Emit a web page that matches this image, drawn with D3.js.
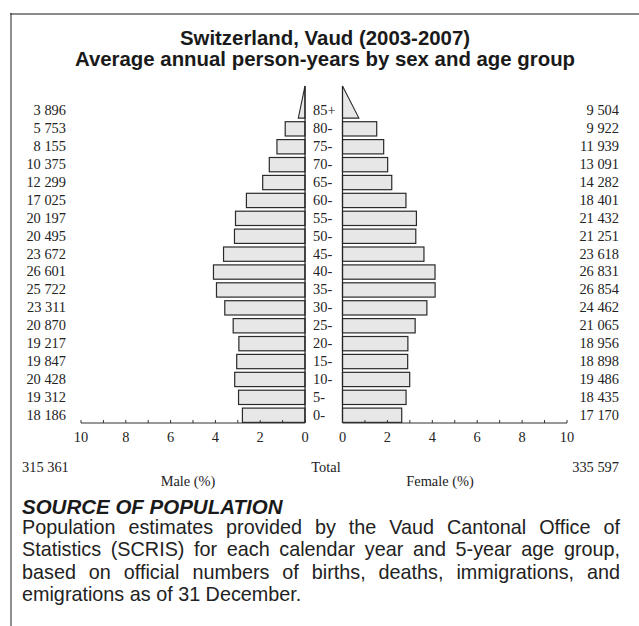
<!DOCTYPE html>
<html>
<head>
<meta charset="utf-8">
<script src="https://cdn.jsdelivr.net/npm/d3@7"></script>
<style>
  html, body { margin: 0; padding: 0; background: #fff; }
  #wrap { position: relative; width: 639px; height: 626px; overflow: hidden; }
  svg { position: absolute; left: 0; top: 0; }
  #note {
    position: absolute; left: 22px; top: 516px; width: 598px;
    font-family: "Liberation Sans", Arial, sans-serif; font-size: 19.8px;
    line-height: 22.3px; color: #222; text-align: justify;
  }
</style>
</head>
<body>
<div id="wrap">
  <svg id="chart" width="639" height="626"></svg>
  <div id="note">Population estimates provided by the Vaud Cantonal Office of Statistics (SCRIS) for each calendar year and 5-year age group, based on official numbers of births, deaths, immigrations, and emigrations as of 31 December.</div>
</div>
<script>
// Age groups, bottom to top
const ageGroups = ["0-", "5-", "10-", "15-", "20-", "25-", "30-", "35-", "40-",
                   "45-", "50-", "55-", "60-", "65-", "70-", "75-", "80-", "85+"];
// Average annual person-years, Vaud 2003-2007
const malePY = [18186, 19312, 20428, 19847, 19217, 20870, 23311, 25722, 26601,
                23672, 20495, 20197, 17025, 12299, 10375, 8155, 5753, 3896];
const femalePY = [17170, 18435, 19486, 18898, 18956, 21065, 24462, 26854, 26831,
                  23618, 21251, 21432, 18401, 14282, 13091, 11939, 9922, 9504];
const axisTicks = [0, 2, 4, 6, 8, 10];

const fmt = d3.formatLocale({ decimal: ".", thousands: " ", grouping: [3], currency: ["", ""] }).format(",d");

const totalMale = d3.sum(malePY);
const totalFemale = d3.sum(femalePY);
const grand = totalMale + totalFemale;
const pct = v => v / grand * 100;

const svg = d3.select("#chart");
const serif = "'Liberation Serif', 'Times New Roman', serif";
const sans = "'Liberation Sans', Arial, sans-serif";
const serifSize = 14.4;

// frame
svg.append("line").attr("x1", 10).attr("x2", 639).attr("y1", 14).attr("y2", 14)
  .attr("stroke", "#8c8c8c").attr("stroke-width", 2);
svg.append("line").attr("x1", 11).attr("x2", 11).attr("y1", 13).attr("y2", 626)
  .attr("stroke", "#333").attr("stroke-width", 1.1);

// title
const title = svg.append("text").attr("text-anchor", "middle")
  .attr("font-family", sans).attr("font-weight", "bold").attr("font-size", 20.4).attr("fill", "#1a1a1a");
title.append("tspan").attr("x", 325).attr("y", 44.5).text("Switzerland, Vaud (2003-2007)");
title.append("tspan").attr("x", 325).attr("y", 65.5).text("Average annual person-years by sex and age group");

// scales
const xL = d3.scaleLinear().domain([0, 10]).range([305, 81]);
const xR = d3.scaleLinear().domain([0, 10]).range([342.5, 567]);
const y = d3.scaleBand().domain(ageGroups).range([423, 100.8]);
const step = y.step();
const axisY = 423;

const rows = ageGroups.map((a, i) => ({ age: a, m: malePY[i], f: femalePY[i], open: a.endsWith("+") }));
const closed = rows.filter(d => !d.open);
const open = rows.filter(d => d.open);

const barFill = "#e6e7e6", barStroke = "#2a2a2a";

// closed age groups as bars
function bars(scale, key, cls) {
  svg.selectAll("rect." + cls).data(closed).join("rect")
    .attr("class", cls)
    .attr("x", d => Math.min(scale(0), scale(pct(d[key]))))
    .attr("width", d => Math.abs(scale(pct(d[key])) - scale(0)))
    .attr("y", d => y(d.age) + 3)
    .attr("height", step - 3.6)
    .attr("fill", barFill).attr("stroke", barStroke).attr("stroke-width", 1.2);
}
bars(xL, "m", "male");
bars(xR, "f", "female");

// open-ended group as a triangle (half-length base, double height)
function tri(scale, key, cls) {
  svg.selectAll("path." + cls).data(open).join("path")
    .attr("class", cls)
    .attr("d", d => {
      const x0 = scale(0);
      const x1 = scale(pct(d[key]) / 2);
      const yb = y(d.age) + step - 0.6;
      const yt = yb - (2 * step - 3.6);
      return `M${x0},${yb}L${x1},${yb}L${x0},${yt}Z`;
    })
    .attr("fill", barFill).attr("stroke", barStroke).attr("stroke-width", 1.1);
}
tri(xL, "m", "maleTop");
tri(xR, "f", "femaleTop");

// vertical baselines
const topY = y(ageGroups[ageGroups.length - 1]) + step - 0.6 - (2 * step - 3.6);
[xL(0), xR(0)].forEach(x => {
  svg.append("line").attr("x1", x).attr("x2", x).attr("y1", topY).attr("y2", axisY)
    .attr("stroke", "#222").attr("stroke-width", 1.2);
});

// horizontal axes
function axis(scale) {
  const g = svg.append("g").attr("transform", `translate(0,${axisY})`);
  g.append("line").attr("x1", scale.range()[0]).attr("x2", scale.range()[1])
    .attr("stroke", "#333").attr("stroke-width", 1.2);
  g.selectAll("line.tick").data(d3.range(0, 11)).join("line").attr("class", "tick")
    .attr("x1", d => scale(d)).attr("x2", d => scale(d)).attr("y1", 0).attr("y2", -3)
    .attr("stroke", "#333").attr("stroke-width", 1);
  g.selectAll("text").data(axisTicks).join("text")
    .attr("x", d => scale(d)).attr("y", 19).attr("text-anchor", "middle")
    .attr("font-family", serif).attr("font-size", serifSize).attr("fill", "#222")
    .text(d => d);
}
axis(xL);
axis(xR);

// age labels and counts
const lbl = svg.append("g").attr("font-family", serif).attr("font-size", serifSize).attr("fill", "#222");
const rowY = d => y(d.age) + step / 2 + 5.6;
lbl.selectAll("text.age").data(rows).join("text").attr("class", "age")
  .attr("x", 313).attr("y", rowY).text(d => d.age);
lbl.selectAll("text.mv").data(rows).join("text").attr("class", "mv")
  .attr("x", 66).attr("text-anchor", "end").attr("y", rowY).text(d => fmt(d.m));
lbl.selectAll("text.fv").data(rows).join("text").attr("class", "fv")
  .attr("x", 619).attr("text-anchor", "end").attr("y", rowY).text(d => fmt(d.f));

// totals and axis titles
lbl.append("text").attr("x", 22).attr("y", 472).text(fmt(totalMale));
lbl.append("text").attr("x", 326).attr("y", 472).attr("text-anchor", "middle").text("Total");
lbl.append("text").attr("x", 619).attr("y", 472).attr("text-anchor", "end").text(fmt(totalFemale));
lbl.append("text").attr("x", 188).attr("y", 486).attr("text-anchor", "middle").text("Male (%)");
lbl.append("text").attr("x", 440).attr("y", 486).attr("text-anchor", "middle").text("Female (%)");

// source heading
svg.append("text").attr("x", 22).attr("y", 514)
  .attr("font-family", sans).attr("font-weight", "bold").attr("font-style", "italic")
  .attr("font-size", 20.5).attr("fill", "#1a1a1a").text("SOURCE OF POPULATION");
</script>
</body>
</html>
